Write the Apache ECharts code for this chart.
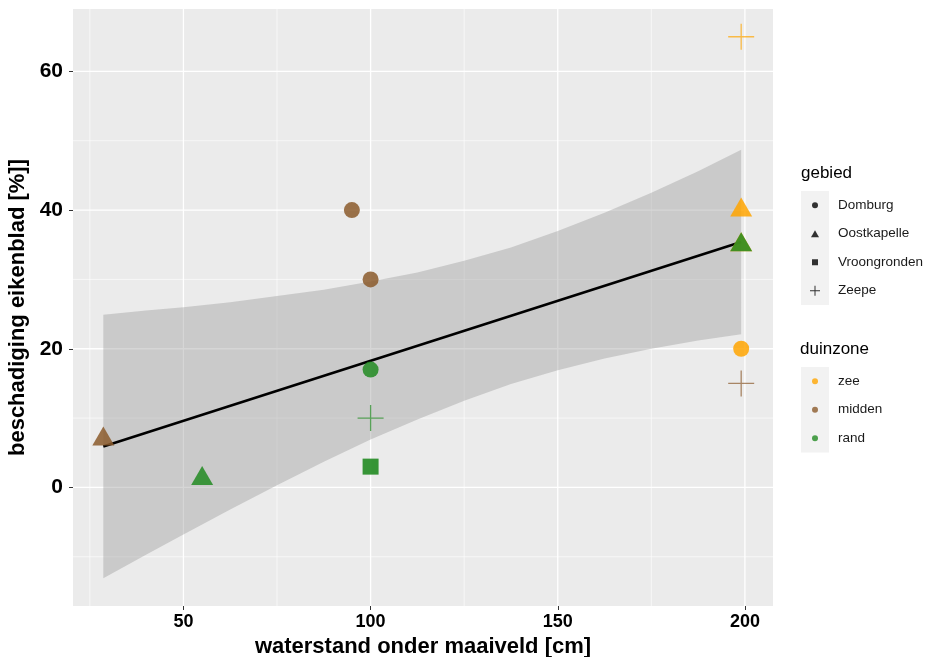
<!DOCTYPE html>
<html><head><meta charset="utf-8">
<script src="https://cdn.jsdelivr.net/npm/echarts@6/dist/echarts.min.js"></script>
<style>html,body{margin:0;padding:0;background:#fff}#c{width:931px;height:657px}</style>
</head><body><div id="c"></div>
<script>
// ---- tick labels / axis ranges ----
const xTicks = [50, 100, 150, 200];
const xMinor = [25, 75, 125, 175];
const yTicks = [0, 20, 40, 60];
const yMinor = [-10, 10, 30, 50];
const xMin = 20.5, xMax = 207.5, yMin = -17.1, yMax = 69.0;

// ---- observations [waterstand (cm), beschadiging (%)] ----
const zeeDomburg = [[199, 20]];
const zeeOostkapelle = [[199, 40], [199, 35]];
const zeeZeepe = [[199, 65]];
const middenDomburg = [[95, 40], [100, 30]];
const middenOostkapelle = [[28.6, 7]];
const middenZeepe = [[199, 15]];
const randDomburg = [[100, 17]];
const randOostkapelle = [[55, 1.3], [199, 35]];
const randVroongronden = [[100, 3]];
const randZeepe = [[100, 10]];

// ---- linear fit + confidence band ----
const fitX = [28.6, 199];
const fitY = [5.9, 35.4];
const bandX = [28.6, 40, 50, 62.5, 75, 87.5, 100, 112.5, 125, 137.5, 150, 162.5, 175, 187.5, 199];
const bandUpper = [24.9, 25.5, 26.0, 26.7, 27.6, 28.5, 29.7, 31.0, 32.7, 34.6, 37.0, 39.6, 42.5, 45.6, 48.7];
const bandLower = [-13.1, -9.7, -6.8, -3.2, 0.3, 3.7, 6.9, 9.8, 12.5, 14.9, 16.9, 18.6, 20.0, 21.2, 22.1];

const gebiedNames = ['Domburg', 'Oostkapelle', 'Vroongronden', 'Zeepe'];
const zoneNames = ['zee', 'midden', 'rand'];

const FONT = 'Liberation Sans, Arial, Helvetica, sans-serif';
const zoneColor = { zee: '#FFA500', midden: '#8B5A2B', rand: '#228B22' };

const plusPath = 'path://M12.35,0H13.65V12.35H26V13.65H13.65V26H12.35V13.65H0V12.35H12.35Z';
const shapeStyle = {
  Domburg: { symbol: 'circle', symbolSize: 16, opacity: 0.85 },
  Oostkapelle: { symbol: 'triangle', symbolSize: [22, 19], symbolOffset: [0, -3], opacity: 0.85 },
  Vroongronden: { symbol: 'rect', symbolSize: 16, opacity: 0.9 },
  Zeepe: { symbol: plusPath, symbolSize: 26, opacity: 0.7 }
};

// legend icons (10x10 boxes)
const box = 'M0,0L0,0M10,10L10,10';
const legendIcon = {
  Domburg: 'path://' + box + 'M5,2A3,3 0 1,1 5,8A3,3 0 1,1 5,2Z',
  Oostkapelle: 'path://' + box + 'M5,1.6L9,8.4L1,8.4Z',
  Vroongronden: 'path://' + box + 'M2,2H8V8H2Z',
  Zeepe: 'path://M4.5,0H5.5V4.5H10V5.5H5.5V10H4.5V5.5H0V4.5H4.5Z'
};

function pointSeries(zone, gebied, data) {
  const s = shapeStyle[gebied];
  return {
    type: 'scatter', name: zone + ' / ' + gebied, data: data, z: 5, silent: true,
    symbol: s.symbol, symbolSize: s.symbolSize, symbolOffset: s.symbolOffset || [0, 0],
    itemStyle: { color: zoneColor[zone], opacity: s.opacity }
  };
}

function gridLines(vals, vertical, width) {
  return {
    type: 'custom', silent: true, z: 1, clip: true,
    data: vals.map(v => [v, v]),
    renderItem: (p, api) => {
      const v = api.value(vertical ? 0 : 1);
      const a = vertical ? api.coord([v, yMin]) : api.coord([xMin, v]);
      const b = vertical ? api.coord([v, yMax]) : api.coord([xMax, v]);
      return { type: 'line', shape: { x1: a[0], y1: a[1], x2: b[0], y2: b[1] },
               style: { stroke: '#FFFFFF', lineWidth: width } };
    }
  };
}

const series = [
  gridLines(xMinor, true, 0.6),
  gridLines(yMinor, false, 0.6),
  gridLines(xTicks, true, 1.3),
  gridLines(yTicks, false, 1.3),
  {
    type: 'custom', silent: true, z: 2, clip: true,
    data: [[bandX[0], bandUpper[0]]],
    renderItem: (p, api) => {
      const pts = [];
      for (let i = 0; i < bandX.length; i++) pts.push(api.coord([bandX[i], bandUpper[i]]));
      for (let i = bandX.length - 1; i >= 0; i--) pts.push(api.coord([bandX[i], bandLower[i]]));
      return { type: 'polygon', shape: { points: pts }, style: { fill: 'rgba(153,153,153,0.4)' } };
    }
  },
  {
    type: 'line', silent: true, z: 3, symbol: 'none',
    data: fitX.map((x, i) => [x, fitY[i]]),
    lineStyle: { color: '#000', width: 2.6 }
  },
  pointSeries('zee', 'Domburg', zeeDomburg),
  pointSeries('zee', 'Oostkapelle', zeeOostkapelle),
  pointSeries('zee', 'Zeepe', zeeZeepe),
  pointSeries('midden', 'Domburg', middenDomburg),
  pointSeries('midden', 'Oostkapelle', middenOostkapelle),
  pointSeries('midden', 'Zeepe', middenZeepe),
  pointSeries('rand', 'Domburg', randDomburg),
  pointSeries('rand', 'Oostkapelle', randOostkapelle),
  pointSeries('rand', 'Vroongronden', randVroongronden),
  pointSeries('rand', 'Zeepe', randZeepe)
];
// legend-only series
gebiedNames.forEach(n => series.push({ type: 'scatter', name: n, data: [], itemStyle: { color: '#000' } }));
zoneNames.forEach(n => series.push({ type: 'scatter', name: n, data: [], itemStyle: { color: zoneColor[n] } }));

const legendText = { fontFamily: FONT, fontSize: 13.5, color: '#1a1a1a', lineHeight: 28, padding: [0, 0, 0, 13] };

const option = {
  animation: false,
  backgroundColor: '#FFFFFF',
  grid: { left: 73, right: 158, top: 9, bottom: 51, show: true, backgroundColor: '#EBEBEB',
          borderWidth: 0, containLabel: false, outerBoundsMode: 'none' },
  xAxis: {
    type: 'value', min: xMin, max: xMax,
    splitLine: { show: false }, minorSplitLine: { show: false },
    axisLine: { show: false, onZero: false },
    axisTick: { show: true, length: 4, lineStyle: { color: '#333', width: 1 }, customValues: xTicks },
    axisLabel: { customValues: xTicks, fontFamily: FONT, fontWeight: 'bold', fontSize: 18, color: '#000', margin: 7 },
    name: 'waterstand onder maaiveld [cm]', nameLocation: 'middle', nameGap: 26,
    nameTextStyle: { fontFamily: FONT, fontWeight: 'bold', fontSize: 22, color: '#000' }
  },
  yAxis: {
    type: 'value', min: yMin, max: yMax,
    splitLine: { show: false }, minorSplitLine: { show: false },
    axisLine: { show: false, onZero: false },
    axisTick: { show: true, length: 4, lineStyle: { color: '#333', width: 1 }, customValues: yTicks },
    axisLabel: { customValues: yTicks, fontFamily: FONT, fontWeight: 'bold', fontSize: 21, color: '#000', margin: 10 },
    name: 'beschadiging eikenblad [%]]', nameLocation: 'middle', nameGap: 38,
    nameTextStyle: { fontFamily: FONT, fontWeight: 'bold', fontSize: 22, color: '#000' }
  },
  legend: [
    { orient: 'vertical', left: 810, top: 191.25, itemWidth: 10, itemHeight: 10, itemGap: 0.5, padding: 0,
      selectedMode: false, symbolKeepAspect: true, textStyle: legendText,
      data: gebiedNames.map(n => ({ name: n, icon: legendIcon[n] })) },
    { orient: 'vertical', left: 810, top: 367.25, itemWidth: 10, itemHeight: 10, itemGap: 0.5, padding: 0,
      selectedMode: false, symbolKeepAspect: true, textStyle: legendText,
      data: zoneNames.map(n => ({ name: n, icon: legendIcon.Domburg })) }
  ],
  graphic: [
    { type: 'rect', left: 801, top: 191, shape: { width: 28, height: 114 }, style: { fill: '#F2F2F2' }, z: 0, silent: true },
    { type: 'rect', left: 801, top: 367, shape: { width: 28, height: 85.5 }, style: { fill: '#F2F2F2' }, z: 0, silent: true },
    { type: 'text', left: 801, top: 165, style: { text: 'gebied', fontFamily: FONT, fontSize: 17, fill: '#000' }, silent: true },
    { type: 'text', left: 800, top: 341, style: { text: 'duinzone', fontFamily: FONT, fontSize: 17, fill: '#000' }, silent: true }
  ],
  series: series
};

const chart = echarts.init(document.getElementById('c'), null, { renderer: 'canvas' });
chart.setOption(option);
</script>
</body></html>
